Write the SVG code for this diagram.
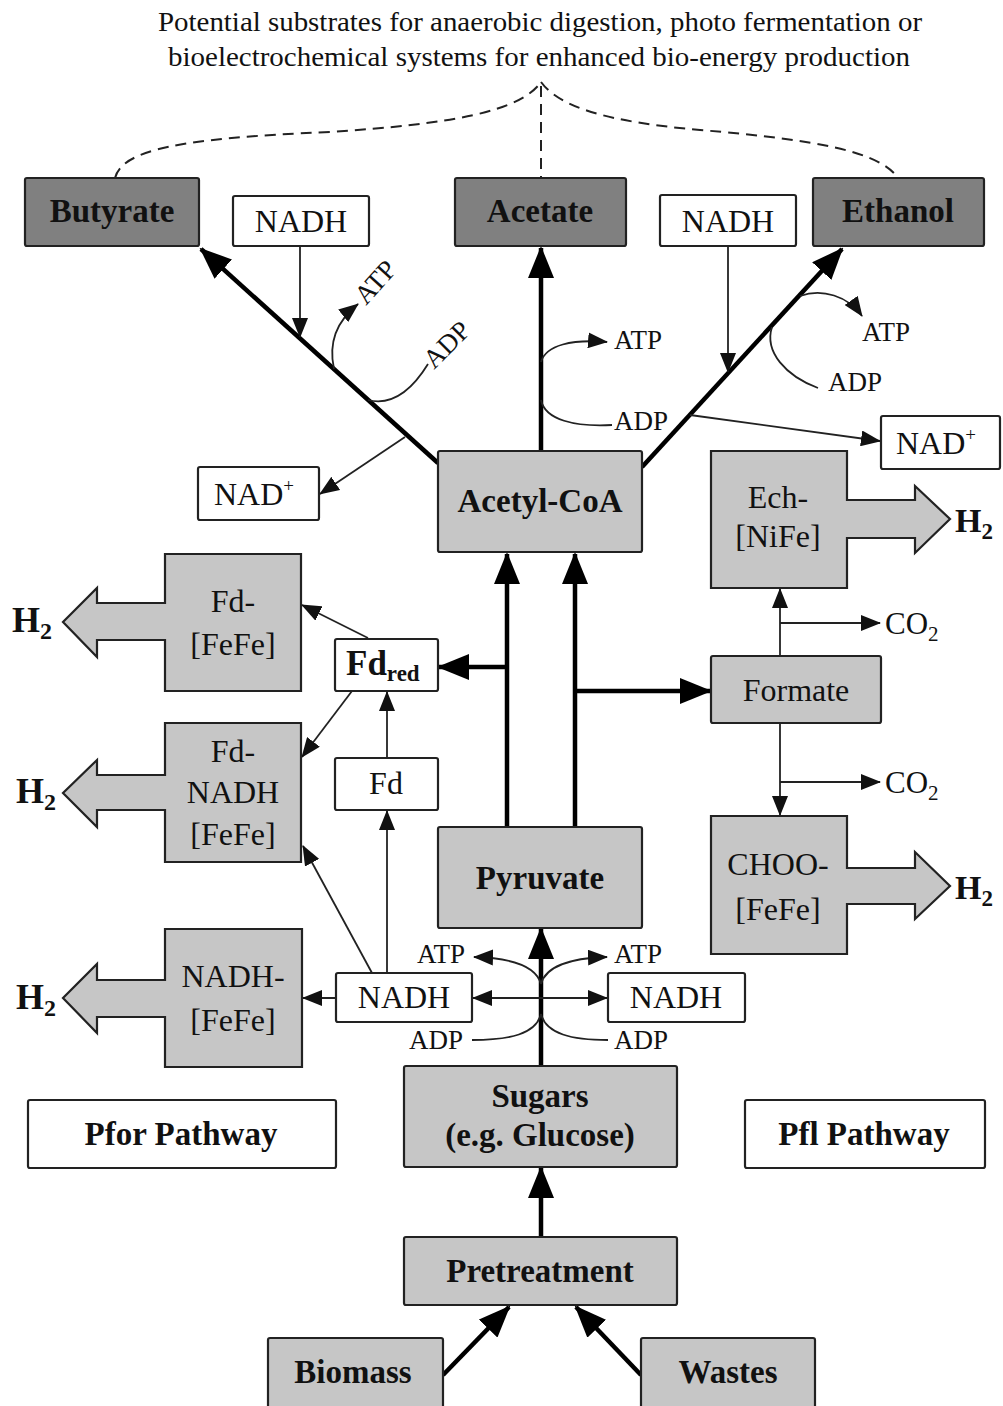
<svg xmlns="http://www.w3.org/2000/svg" width="1003" height="1406" viewBox="0 0 1003 1406">
<defs>
<style>
.dark{fill:#808080;stroke:#222;stroke-width:2.2}
.light{fill:#c6c6c6;stroke:#222;stroke-width:2.2}
.white{fill:#fff;stroke:#222;stroke-width:2.2}
text{font-family:"Liberation Serif","Times New Roman",serif;fill:#111}
.b{font-weight:bold;font-size:33px;text-anchor:middle}
.r{font-size:32px;text-anchor:middle}
.s{font-size:27px}
.title{font-size:28px;text-anchor:middle}
.thick{fill:none;stroke:#000;stroke-width:4.5}
.thin{fill:none;stroke:#222;stroke-width:1.8}
.dash{fill:none;stroke:#222;stroke-width:2;stroke-dasharray:11 7}
</style>
<marker id="ah" markerUnits="userSpaceOnUse" markerWidth="32" markerHeight="26" refX="30" refY="13" orient="auto"><path d="M0,0 L32,13 L0,26 z" fill="#000"/></marker>
<marker id="as" markerUnits="userSpaceOnUse" markerWidth="20" markerHeight="16" refX="19" refY="8" orient="auto"><path d="M0,0 L20,8 L0,16 z" fill="#111"/></marker>
</defs>
<rect width="1003" height="1406" fill="#fff"/>

<g id="title">
<text class="title" x="540" y="31" textLength="764" lengthAdjust="spacingAndGlyphs">Potential substrates for anaerobic digestion, photo fermentation or</text>
<text class="title" x="539" y="66" textLength="742" lengthAdjust="spacingAndGlyphs">bioelectrochemical systems for enhanced bio-energy production</text>
</g>

<g id="connectors">
<path class="dash" d="M115,178 C122,150 180,138 330,132 C450,124 520,112 541,82"/>
<path class="dash" d="M541,82 C560,108 610,122 700,130 C820,140 880,152 898,178"/>
<path class="dash" d="M541,86 L541,178"/>

<path class="thick" d="M438,463 L201,249" marker-end="url(#ah)"/>
<path class="thick" d="M541,451 L541,248" marker-end="url(#ah)"/>
<path class="thick" d="M642,467 L842,249" marker-end="url(#ah)"/>
<path class="thick" d="M507,827 L507,554" marker-end="url(#ah)"/>
<path class="thick" d="M575,827 L575,554" marker-end="url(#ah)"/>
<path class="thick" d="M507,667 L439,667" marker-end="url(#ah)"/>
<path class="thick" d="M575,691 L710,691" marker-end="url(#ah)"/>
<path class="thick" d="M541,1066 L541,929" marker-end="url(#ah)"/>
<path class="thick" d="M541,1237 L541,1168" marker-end="url(#ah)"/>
<path class="thick" d="M443,1375 L509,1307" marker-end="url(#ah)"/>
<path class="thick" d="M641,1375 L576,1307" marker-end="url(#ah)"/>

<path class="thin" d="M300,246 L300,337" marker-end="url(#as)"/>
<path class="thin" d="M334,369 C328,342 338,320 358,304" marker-end="url(#as)"/>
<path class="thin" d="M368,400 C392,406 412,390 428,364"/>
<path class="thin" d="M405,437 L320,494" marker-end="url(#as)"/>

<path class="thin" d="M541,362 C546,345 572,339 607,342" marker-end="url(#as)"/>
<path class="thin" d="M541,400 C545,420 575,427 612,425"/>

<path class="thin" d="M728,246 L728,372" marker-end="url(#as)"/>
<path class="thin" d="M800,296 C822,288 848,296 862,316" marker-end="url(#as)"/>
<path class="thin" d="M772,327 C764,352 786,376 818,388"/>
<path class="thin" d="M690,415 L880,441" marker-end="url(#as)"/>

<path class="thin" d="M780,656 L780,589" marker-end="url(#as)"/>
<path class="thin" d="M780,623 L880,623" marker-end="url(#as)"/>
<path class="thin" d="M780,724 L780,815" marker-end="url(#as)"/>
<path class="thin" d="M780,782 L880,782" marker-end="url(#as)"/>

<path class="thin" d="M368,638 L302,605" marker-end="url(#as)"/>
<path class="thin" d="M352,691 L302,757" marker-end="url(#as)"/>
<path class="thin" d="M387,758 L387,692" marker-end="url(#as)"/>
<path class="thin" d="M387,973 L387,811" marker-end="url(#as)"/>
<path class="thin" d="M372,973 L303,846" marker-end="url(#as)"/>
<path class="thin" d="M336,998 L303,998" marker-end="url(#as)"/>

<path class="thin" d="M541,998 L473,998" marker-end="url(#as)"/>
<path class="thin" d="M541,998 L607,998" marker-end="url(#as)"/>
<path class="thin" d="M541,984 C536,966 510,958 474,957" marker-end="url(#as)"/>
<path class="thin" d="M541,984 C546,966 572,958 607,957" marker-end="url(#as)"/>
<path class="thin" d="M541,1014 C536,1034 510,1040 472,1040"/>
<path class="thin" d="M541,1014 C546,1034 572,1040 608,1040"/>
</g>

<g id="connector-labels">
<text class="s" transform="translate(366,306) rotate(-48)">ATP</text>
<text class="s" transform="translate(434,370) rotate(-45)">ADP</text>
<text class="s" x="614" y="349">ATP</text>
<text class="s" x="614" y="430">ADP</text>
<text class="s" x="862" y="341">ATP</text>
<text class="s" x="828" y="391">ADP</text>
<text class="s" x="417" y="963">ATP</text>
<text class="s" x="409" y="1049">ADP</text>
<text class="s" x="614" y="963">ATP</text>
<text class="s" x="614" y="1049">ADP</text>
<text style="font-size:31px" x="885" y="634">CO<tspan style="font-size:21px" dy="7">2</tspan></text>
<text style="font-size:31px" x="885" y="793">CO<tspan style="font-size:21px" dy="7">2</tspan></text>
</g>

<g id="butyrate"><rect class="dark" x="25" y="178" width="174" height="68" rx="2"/><text class="b" x="112" y="222">Butyrate</text></g>
<g id="nadh-top-left"><rect class="white" x="233" y="196" width="136" height="50" rx="2"/><text class="r" x="301" y="232">NADH</text></g>
<g id="acetate"><rect class="dark" x="455" y="178" width="171" height="68" rx="2"/><text class="b" x="540" y="222">Acetate</text></g>
<g id="nadh-top-right"><rect class="white" x="660" y="195" width="136" height="51" rx="2"/><text class="r" x="728" y="232">NADH</text></g>
<g id="ethanol"><rect class="dark" x="813" y="178" width="171" height="68" rx="2"/><text class="b" x="898" y="222">Ethanol</text></g>

<g id="acetyl-coa"><rect class="light" x="438" y="451" width="204" height="101" rx="2"/><text class="b" x="540" y="512">Acetyl-CoA</text></g>
<g id="nad-left"><rect class="white" x="198" y="467" width="121" height="53" rx="2"/><text class="r" x="254" y="505">NAD<tspan style="font-size:19px" dy="-13">+</tspan></text></g>
<g id="nad-right"><rect class="white" x="881" y="416" width="119" height="53" rx="2"/><text class="r" x="936" y="454">NAD<tspan style="font-size:19px" dy="-13">+</tspan></text></g>

<g id="ech-nife"><path class="light" d="M711,451 L847,451 L847,500 L915,500 L915,486 L950,519 L915,553 L915,538 L847,538 L847,588 L711,588 Z"/><text class="r" x="778" y="508">Ech-</text><text class="r" x="778" y="547">[NiFe]</text><text class="b" x="955" y="532" style="text-anchor:start;font-size:34px">H<tspan style="font-size:23px" dy="7">2</tspan></text></g>

<g id="fd-fefe"><path class="light" d="M165,554 L301,554 L301,691 L165,691 L165,640 L97,640 L97,657 L63,622 L97,588 L97,603 L165,603 Z"/><text class="r" x="233" y="612">Fd-</text><text class="r" x="233" y="655">[FeFe]</text><text class="b" x="12" y="632" style="text-anchor:start;font-size:36px">H<tspan style="font-size:24px" dy="7">2</tspan></text></g>

<g id="fd-red"><rect class="white" x="335" y="639" width="103" height="52" rx="2"/><text class="b" x="346" y="675" style="text-anchor:start;font-size:35px">Fd<tspan style="font-size:23px" dy="6">red</tspan></text></g>

<g id="formate"><rect class="light" x="711" y="656" width="170" height="67" rx="2"/><text class="r" x="796" y="701">Formate</text></g>

<g id="fd-nadh-fefe"><path class="light" d="M165,723 L301,723 L301,862 L165,862 L165,810 L97,810 L97,827 L63,793 L97,760 L97,775 L165,775 Z"/><text class="r" x="233" y="762">Fd-</text><text class="r" x="233" y="803">NADH</text><text class="r" x="233" y="845">[FeFe]</text><text class="b" x="16" y="803" style="text-anchor:start;font-size:36px">H<tspan style="font-size:24px" dy="7">2</tspan></text></g>

<g id="fd"><rect class="white" x="335" y="758" width="103" height="52" rx="2"/><text class="r" x="386" y="794">Fd</text></g>

<g id="pyruvate"><rect class="light" x="438" y="827" width="204" height="101" rx="2"/><text class="b" x="540" y="889">Pyruvate</text></g>

<g id="choo-fefe"><path class="light" d="M711,816 L847,816 L847,868 L915,868 L915,852 L950,886 L915,919 L915,904 L847,904 L847,954 L711,954 Z"/><text class="r" x="778" y="875">CHOO-</text><text class="r" x="778" y="920">[FeFe]</text><text class="b" x="955" y="899" style="text-anchor:start;font-size:34px">H<tspan style="font-size:23px" dy="7">2</tspan></text></g>

<g id="nadh-fefe"><path class="light" d="M165,929 L302,929 L302,1067 L165,1067 L165,1017 L97,1017 L97,1033 L63,998 L97,964 L97,980 L165,980 Z"/><text class="r" x="233" y="987">NADH-</text><text class="r" x="233" y="1031">[FeFe]</text><text class="b" x="16" y="1009" style="text-anchor:start;font-size:36px">H<tspan style="font-size:24px" dy="7">2</tspan></text></g>

<g id="nadh-bottom-left"><rect class="white" x="336" y="973" width="136" height="49" rx="2"/><text class="r" x="404" y="1008">NADH</text></g>
<g id="nadh-bottom-right"><rect class="white" x="608" y="973" width="137" height="49" rx="2"/><text class="r" x="676" y="1008">NADH</text></g>

<g id="sugars"><rect class="light" x="404" y="1066" width="273" height="101" rx="2"/><text class="b" x="540" y="1107">Sugars</text><text class="b" x="540" y="1146">(e.g. Glucose)</text></g>
<g id="pfor-pathway"><rect class="white" x="28" y="1100" width="308" height="68" rx="2"/><text class="b" x="181" y="1145">Pfor Pathway</text></g>
<g id="pfl-pathway"><rect class="white" x="745" y="1100" width="240" height="68" rx="2"/><text class="b" x="864" y="1145">Pfl Pathway</text></g>
<g id="pretreatment"><rect class="light" x="404" y="1237" width="273" height="68" rx="2"/><text class="b" x="540" y="1282">Pretreatment</text></g>
<g id="biomass"><rect class="light" x="268" y="1338" width="175" height="72" rx="2"/><text class="b" x="353" y="1383">Biomass</text></g>
<g id="wastes"><rect class="light" x="641" y="1338" width="174" height="72" rx="2"/><text class="b" x="728" y="1383">Wastes</text></g>
</svg>
